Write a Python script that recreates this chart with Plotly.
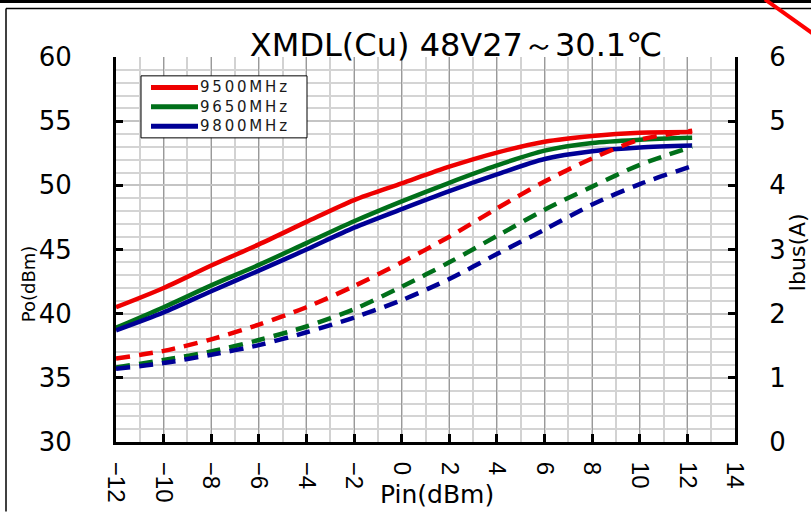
import plotly.graph_objects as go

# ---- data ----
pin = [-12, -10, -8, -6, -4, -2, 0, 2, 4, 6, 8, 10, 12.2]

po_9500 = [40.5, 42.0, 43.75, 45.4, 47.15, 48.85, 50.15, 51.45, 52.55, 53.4, 53.85, 54.1, 54.15]
po_9650 = [38.9, 40.5, 42.2, 43.8, 45.5, 47.2, 48.75, 50.2, 51.55, 52.7, 53.3, 53.55, 53.7]
po_9800 = [38.7, 40.1, 41.75, 43.35, 45.0, 46.7, 48.15, 49.55, 50.85, 52.05, 52.65, 52.95, 53.1]

ibus_9500 = [1.30, 1.42, 1.60, 1.83, 2.10, 2.43, 2.80, 3.20, 3.64, 4.06, 4.42, 4.71, 4.85]
ibus_9650 = [1.16, 1.28, 1.41, 1.59, 1.80, 2.07, 2.42, 2.80, 3.21, 3.62, 3.98, 4.32, 4.60]
ibus_9800 = [1.14, 1.23, 1.36, 1.51, 1.71, 1.94, 2.21, 2.54, 2.93, 3.31, 3.70, 4.02, 4.30]

labels = ["9500MHz", "9650MHz", "9800MHz"]
colors = ["#ee0000", "#00701a", "#000096"]

x_ticks = list(range(-12, 15, 2))
y_ticks = list(range(30, 61, 5))
y2_ticks = list(range(0, 7))

title_text = "XMDL(Cu) 48V27～30.1℃"

W, H = 811, 515
L, R, T, B = 116, 76, 57, 70
pw, ph = W - L - R, H - T - B


def px(xp):
    return (xp - L) / pw


def py(yp):
    return (H - B - yp) / ph


fig = go.Figure()
for po, lab, c in zip([po_9500, po_9650, po_9800], labels, colors):
    fig.add_trace(go.Scatter(x=pin, y=po, mode="lines", name=lab, showlegend=False,
                             line=dict(color=c, width=4.5, shape="spline", smoothing=0.8)))
for ib, lab, c in zip([ibus_9500, ibus_9650, ibus_9800], labels, colors):
    fig.add_trace(go.Scatter(x=pin, y=ib, mode="lines", name=lab, yaxis="y2", showlegend=False,
                             line=dict(color=c, width=4.5, dash="14px,9px", shape="spline", smoothing=0.8)))

font_main = "DejaVu Sans"

fig.update_layout(
    width=W, height=H,
    margin=dict(l=L, r=R, t=T, b=B),
    paper_bgcolor="white", plot_bgcolor="white",
    font=dict(family=font_main, color="black"),
    title=dict(text=title_text, x=456 / W, xanchor="center", y=1 - 45 / H, yanchor="middle",
               yref="container", font=dict(size=32, family=font_main, color="black")),
    showlegend=False,
    xaxis=dict(range=[-12, 14], tickvals=x_ticks, tickangle=90,
               ticks="inside", ticklen=8, tickwidth=3, tickcolor="black",
               showline=True, linecolor="black", linewidth=3,
               showgrid=True, gridcolor="#9a9a9a", gridwidth=1,
               minor=dict(dtick=1, showgrid=True, gridcolor="#d2d2d2", gridwidth=1.5),
               zeroline=False, ticklabelstandoff=12,
               tickfont=dict(size=24, family="Liberation Sans", color="black")),
    yaxis=dict(range=[30, 60], tickvals=y_ticks,
               ticks="inside", ticklen=7, tickwidth=3, tickcolor="black",
               showline=True, linecolor="black", linewidth=3,
               showgrid=True, gridcolor="#c4c4c4", gridwidth=2,
               minor=dict(dtick=1, showgrid=True, gridcolor="#d4d4d4", gridwidth=2),
               zeroline=False, ticklabelstandoff=36,
               tickfont=dict(size=26, family=font_main, color="black")),
    yaxis2=dict(range=[0, 6], tickvals=y2_ticks, overlaying="y", side="right",
                ticks="inside", ticklen=7, tickwidth=3, tickcolor="black",
                showline=True, linecolor="black", linewidth=3,
                showgrid=False, zeroline=False, ticklabelstandoff=26,
                tickfont=dict(size=26, family=font_main, color="black")),
)

# axis titles as annotations
fig.add_annotation(text="Po(dBm)", x=px(28), y=py(285), xref="paper", yref="paper",
                   xanchor="center", yanchor="middle",
                   textangle=-90, showarrow=False, font=dict(size=18, family=font_main, color="black"))
fig.add_annotation(text="Ibus(A)", x=px(797), y=py(254), xref="paper", yref="paper",
                   xanchor="center", yanchor="middle",
                   textangle=-90, showarrow=False, font=dict(size=22, family=font_main, color="black"))
fig.add_annotation(text="Pin(dBm)", x=px(437), y=py(498), xref="paper", yref="paper",
                   xanchor="center", yanchor="middle",
                   showarrow=False, font=dict(size=25, family=font_main, color="black"))

# legend (box, swatches, labels)
leg_fs = 15
leg_line = leg_fs * 1.3
leg_top = 77
leg_x0, leg_x1 = 141, 307
leg_y1 = leg_top + 3 * leg_line + 3
fig.add_shape(type="rect", xref="paper", yref="paper",
              x0=px(leg_x0), x1=px(leg_x1), y0=py(leg_top - 1), y1=py(leg_y1),
              line=dict(color="black", width=1), fillcolor="white", layer="above")
for i, c in enumerate(colors):
    yy = leg_top + 1 + leg_line * (i + 0.5)
    fig.add_shape(type="line", xref="paper", yref="paper",
                  x0=px(151), x1=px(198), y0=py(yy), y1=py(yy),
                  line=dict(color=c, width=5), layer="above")
leg_text = "<br>".join(f"<span style='letter-spacing:2.8px'>{lab}</span>" for lab in labels)
fig.add_annotation(text=leg_text, x=px(199), y=py(leg_top), xref="paper", yref="paper",
                   xanchor="left", yanchor="top", align="left", showarrow=False, borderpad=0,
                   font=dict(size=leg_fs, family=font_main, color="#1a1a1a"))

# page frame decorations (from screenshot)
fig.add_shape(type="line", xref="paper", yref="paper", x0=px(0), x1=px(811), y0=py(1), y1=py(1),
              line=dict(color="black", width=3))
fig.add_shape(type="line", xref="paper", yref="paper", x0=px(6), x1=px(811), y0=py(8), y1=py(8),
              line=dict(color="black", width=1.5))
fig.add_shape(type="line", xref="paper", yref="paper", x0=px(6), x1=px(6), y0=py(8), y1=py(515),
              line=dict(color="black", width=1.5))
fig.add_shape(type="line", xref="paper", yref="paper", x0=px(765), x1=px(815), y0=py(-1), y1=py(35),
              line=dict(color="#ff0000", width=4))

fig.write_html("out.html")
